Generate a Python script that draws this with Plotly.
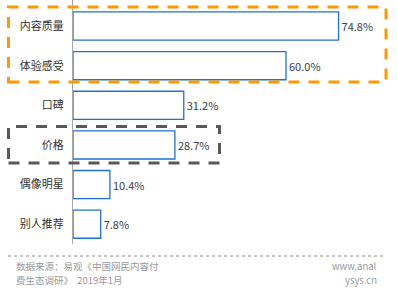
import plotly.graph_objects as go

categories = ["内容质量", "体验感受", "口碑", "价格", "偶像明星", "别人推荐"]
values = [74.8, 60.0, 31.2, 28.7, 10.4, 7.8]
labels = ["74.8%", "60.0%", "31.2%", "28.7%", "10.4%", "7.8%"]
source_lines = ["数据来源：易观《中国网民内容付", "费生态调研》  2019年1月"]
site_lines = ["www.anal", "ysys.cn"]

W, H = 398, 294
L, R, T, B = 73, 0, 0, 50
PW, PH = W - L - R, H - T - B
FONT = "Noto Sans CJK SC"


def px2x(px):
    return (px - L) / PW


def py2y(py):
    return (T + PH - py) / PH


fig = go.Figure(go.Bar(
    x=values, y=categories, orientation="h",
    marker=dict(color="white", line=dict(color="#1f72d4", width=1.3)),
    width=0.71,
    text=labels, textposition="outside", cliponaxis=False,
    textfont=dict(color="#404040", size=11, family=FONT),
))

annotations = []
line_y = [265.5, 279.5]
for i, t in enumerate(source_lines):
    annotations.append(dict(xref="paper", yref="paper", x=px2x(14), y=py2y(line_y[i]),
                            xanchor="left", yanchor="middle", align="left", showarrow=False,
                            text=t, font=dict(size=9.5, color="#9a9a9a", family=FONT)))
for i, t in enumerate(site_lines):
    annotations.append(dict(xref="paper", yref="paper", x=px2x(379), y=py2y(line_y[i]),
                            xanchor="right", yanchor="middle", align="right", showarrow=False,
                            text=t, font=dict(size=9.5, color="#9a9a9a", family=FONT)))

fig.update_layout(
    width=W, height=H, margin=dict(l=L, r=R, t=T, b=B),
    paper_bgcolor="white", plot_bgcolor="white",
    showlegend=False,
    font=dict(family=FONT, color="#333333", size=11),
    xaxis=dict(range=[0, PW / 3.55], visible=False, fixedrange=True),
    yaxis=dict(type="category", categoryarray=categories, range=[5.5, -0.657],
               showline=True, linecolor="#a6a6a6", linewidth=1.2,
               showgrid=False, ticks="", ticklabelstandoff=6,
               tickfont=dict(size=11, color="#333333", family=FONT)),
    shapes=[
        dict(type="rect", xref="paper", yref="paper",
             x0=px2x(8.5), x1=px2x(386), y0=py2y(82), y1=py2y(7),
             line=dict(color="#ff9900", width=3, dash="11px,9px"), layer="above"),
        dict(type="rect", xref="paper", yref="paper",
             x0=px2x(8.5), x1=px2x(219.5), y0=py2y(163), y1=py2y(126.5),
             line=dict(color="#595959", width=3, dash="11px,9px"), layer="above"),
        dict(type="line", xref="paper", yref="paper",
             x0=px2x(8), x1=px2x(386), y0=py2y(256), y1=py2y(256),
             line=dict(color="#8c8c8c", width=1, dash="dot")),
    ],
    annotations=annotations,
)

fig.write_html("out.html")
